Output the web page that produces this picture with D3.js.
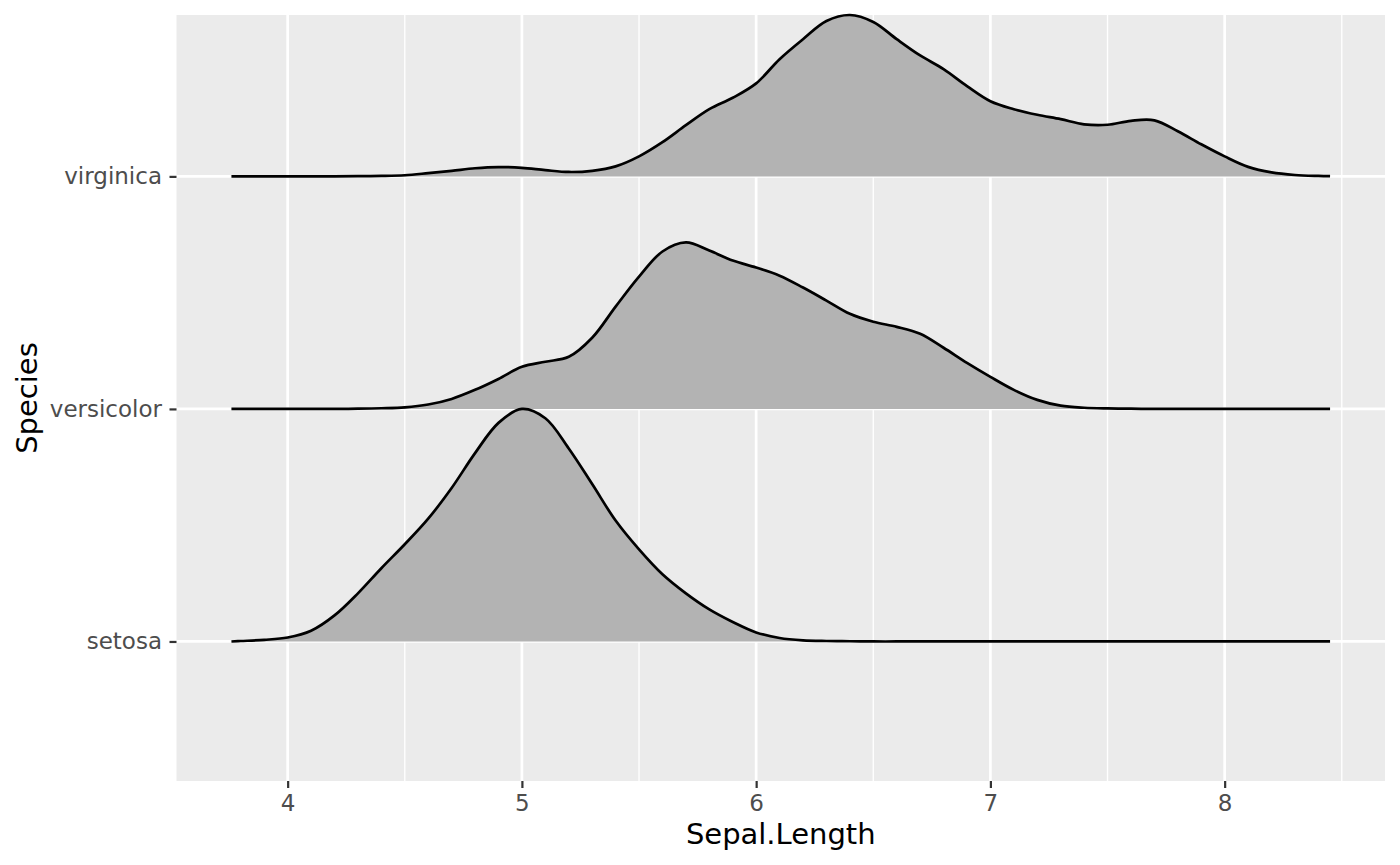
<!DOCTYPE html>
<html>
<head>
<meta charset="utf-8">
<script src="https://cdn.jsdelivr.net/npm/d3@7"></script>
<style>
body{margin:0;background:#fff;}
svg text{font-family:"DejaVu Sans",sans-serif;}
</style>
</head>
<body>
<div id="chart"></div>
<script>
var w = 1400;
var h = 865;
var margin = {top: 15, right: 15, bottom: 84, left: 176.5};

// categories, bottom to top
var species = ["setosa", "versicolor", "virginica"];

// x positions of the density samples (Sepal.Length)
var sepalGrid = [3.76, 3.8, 3.9, 4.0, 4.1, 4.2, 4.3, 4.4, 4.5, 4.6, 4.7, 4.8, 4.9,
  5.0, 5.1, 5.2, 5.3, 5.4, 5.5, 5.6, 5.7, 5.8, 5.9, 6.0, 6.1, 6.2, 6.3, 6.4, 6.5,
  6.6, 6.7, 6.8, 6.9, 7.0, 7.1, 7.2, 7.3, 7.4, 7.5, 7.6, 7.7, 7.8, 7.9, 8.0, 8.1,
  8.2, 8.3, 8.4, 8.45];

// scaled ridge heights (tallest ridge = 1 row)
var setosaDensity = [0, 0.002, 0.007, 0.017, 0.046, 0.112, 0.207, 0.315, 0.418, 0.528, 0.66, 0.81, 0.94,
  1.0, 0.96, 0.83, 0.677, 0.52, 0.396, 0.289, 0.207, 0.138, 0.084, 0.039, 0.015, 0.005, 0.002, 0.001, 0,
  0, 0, 0, 0, 0, 0, 0, 0, 0, 0, 0, 0, 0, 0, 0, 0,
  0, 0, 0, 0];
var versicolorDensity = [0, 0, 0, 0, 0, 0, 0.001, 0.003, 0.007, 0.019, 0.043, 0.082, 0.129,
  0.181, 0.203, 0.224, 0.306, 0.44, 0.569, 0.677, 0.716, 0.681, 0.638, 0.608, 0.573, 0.522, 0.466, 0.409, 0.375,
  0.353, 0.323, 0.263, 0.198, 0.138, 0.082, 0.039, 0.014, 0.005, 0.002, 0.001, 0, 0, 0, 0, 0,
  0, 0, 0, 0];
var virginicaDensity = [0, 0, 0, 0, 0, 0, 0.001, 0.002, 0.005, 0.014, 0.024, 0.035, 0.04,
  0.037, 0.027, 0.019, 0.024, 0.043, 0.086, 0.147, 0.22, 0.289, 0.338, 0.40, 0.504, 0.59, 0.668, 0.694, 0.664,
  0.59, 0.52, 0.461, 0.388, 0.323, 0.289, 0.265, 0.246, 0.224, 0.222, 0.239, 0.241, 0.194, 0.138, 0.086, 0.041,
  0.017, 0.006, 0.002, 0.001];

var xTicks = [4, 5, 6, 7, 8];
var xMinorTicks = [4.5, 5.5, 6.5, 7.5, 8.5];

var ridges = [
  {name: "setosa", values: setosaDensity},
  {name: "versicolor", values: versicolorDensity},
  {name: "virginica", values: virginicaDensity}
];

var svg = d3.select("#chart").append("svg")
  .attr("width", w)
  .attr("height", h);

var pw = w - margin.left - margin.right;
var ph = h - margin.top - margin.bottom;

// x scale, ggplot style 5% expansion
var xmin = d3.min(sepalGrid), xmax = d3.max(sepalGrid);
var xpad = (xmax - xmin) * 0.05;
var xScale = d3.scaleLinear()
  .domain([xmin - xpad, xmax + xpad])
  .range([0, pw]);

// rows at 1,2,3; top is the highest ridge
var ytop = d3.max(ridges, function(r, i) { return i + 1 + d3.max(r.values); });
var yScale = d3.scaleLinear()
  .domain([0.4, ytop])
  .range([ph, 0]);

var g = svg.append("g")
  .attr("transform", "translate(" + margin.left + "," + margin.top + ")");

// panel
g.append("rect")
  .attr("width", pw)
  .attr("height", ph)
  .attr("fill", "#EBEBEB");

g.selectAll(".minor")
  .data(xMinorTicks).enter()
  .append("line")
  .attr("x1", function(d) { return xScale(d); })
  .attr("x2", function(d) { return xScale(d); })
  .attr("y1", 0).attr("y2", ph)
  .attr("stroke", "#fff").attr("stroke-width", 1.35);

g.selectAll(".majorx")
  .data(xTicks).enter()
  .append("line")
  .attr("x1", function(d) { return xScale(d); })
  .attr("x2", function(d) { return xScale(d); })
  .attr("y1", 0).attr("y2", ph)
  .attr("stroke", "#fff").attr("stroke-width", 2.7);

g.selectAll(".majory")
  .data(species).enter()
  .append("line")
  .attr("x1", 0).attr("x2", pw)
  .attr("y1", function(d, i) { return yScale(i + 1); })
  .attr("y2", function(d, i) { return yScale(i + 1); })
  .attr("stroke", "#fff").attr("stroke-width", 2.7);

// ridges, top one first so lower ones overlap
var smooth = d3.curveCatmullRom.alpha(0.5);
ridges.slice().reverse().forEach(function(r) {
  var base = species.indexOf(r.name) + 1;
  var pts = sepalGrid.map(function(x, i) { return {x: x, d: r.values[i]}; });

  var area = d3.area()
    .x(function(d) { return xScale(d.x); })
    .y0(yScale(base))
    .y1(function(d) { return yScale(base + d.d); })
    .curve(smooth);
  var line = d3.line()
    .x(function(d) { return xScale(d.x); })
    .y(function(d) { return yScale(base + d.d); })
    .curve(smooth);

  g.append("path")
    .datum(pts)
    .attr("d", area)
    .attr("fill", "#B3B3B3");
  g.append("path")
    .datum(pts)
    .attr("d", line)
    .attr("fill", "none")
    .attr("stroke", "#000")
    .attr("stroke-width", 2.7)
    .attr("stroke-linejoin", "round");
});

// axes
var xAxis = g.append("g")
  .attr("transform", "translate(0," + ph + ")")
  .call(d3.axisBottom(xScale).tickValues(xTicks).tickFormat(d3.format("d"))
    .tickSize(7).tickPadding(7));

var yAxis = g.append("g")
  .call(d3.axisLeft(yScale).tickValues([1, 2, 3])
    .tickFormat(function(d) { return species[d - 1]; })
    .tickSize(7).tickPadding(7.5));

[xAxis, yAxis].forEach(function(ax) {
  ax.select(".domain").remove();
  ax.selectAll(".tick line").attr("stroke", "#333333").attr("stroke-width", 2.2);
  ax.selectAll(".tick text")
    .attr("fill", "#4D4D4D")
    .style("font-size", "23px")
    .style("font-family", "DejaVu Sans");
});

// axis titles
svg.append("text")
  .attr("x", margin.left + pw / 2)
  .attr("y", 844)
  .attr("text-anchor", "middle")
  .style("font-size", "29px")
  .attr("fill", "#000")
  .text("Sepal.Length");

svg.append("text")
  .attr("transform", "translate(37," + (margin.top + ph / 2) + ") rotate(-90)")
  .attr("text-anchor", "middle")
  .style("font-size", "29px")
  .attr("fill", "#000")
  .text("Species");
</script>
</body>
</html>
